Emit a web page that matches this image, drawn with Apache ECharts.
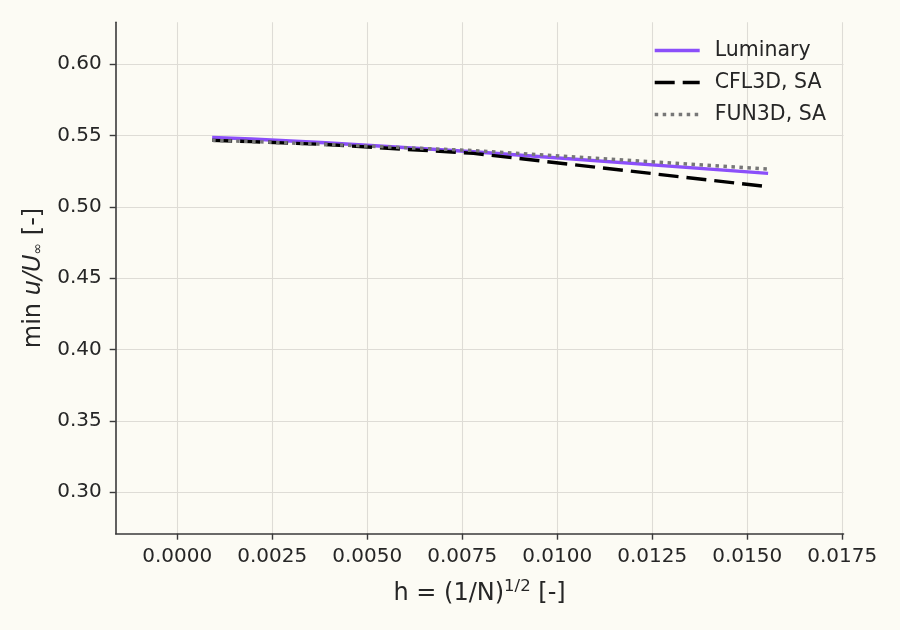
<!DOCTYPE html>
<html>
<head>
<meta charset="utf-8">
<script src="https://cdn.jsdelivr.net/npm/echarts@6/dist/echarts.min.js"></script>
<style>
html,body{margin:0;padding:0;background:#FCFBF4;}
#c{width:900px;height:630px;}
</style>
</head>
<body>
<div id="c"></div>
<script>
const hValues = [0.00092, 0.00195, 0.0039, 0.0078, 0.01555];
const luminary = [0.5487, 0.5476, 0.5449, 0.5386, 0.5235];
const cfl3d = [0.5466, 0.5457, 0.5437, 0.5375, 0.5141];
const fun3d = [0.5466, 0.5458, 0.5438, 0.5395, 0.5265];
const xTicks = [0, 0.0025, 0.005, 0.0075, 0.01, 0.0125, 0.015, 0.0175];
const yTicks = [0.30, 0.35, 0.40, 0.45, 0.50, 0.55, 0.60];
const seriesNames = ['Luminary', 'CFL3D, SA', 'FUN3D, SA'];

const pairs = arr => hValues.map((h, i) => [h, arr[i]]);
const font = 'DejaVu Sans';
const txt = '#262626';
const axisCol = '#3a3a3a';
const gridCol = '#DEDCD6';

const chart = echarts.init(document.getElementById('c'));
chart.setOption({
  backgroundColor: '#FCFBF4',
  animation: false,
  textStyle: {fontFamily: font},
  grid: {left: 115.7, right: 56.5, top: 22.3, bottom: 96.3, containLabel: false},
  legend: {
    orient: 'vertical', left: 653, top: 40, padding: 0,
    itemWidth: 45, itemHeight: 14, itemGap: 11,
    itemStyle: {opacity: 0},
    lineStyle: {width: 3.4},
    textStyle: {fontFamily: font, fontSize: 20.5, color: txt, padding: [0, 0, 0, 10]},
    data: seriesNames
  },
  xAxis: {
    type: 'value', min: -0.001618, max: 0.017534,
    axisLine: {show: true, onZero: false, lineStyle: {color: axisCol, width: 1.6}},
    axisTick: {show: true, length: 6, lineStyle: {color: axisCol, width: 1.4}, customValues: xTicks},
    axisLabel: {customValues: xTicks, margin: 13, fontSize: 20, color: txt, fontFamily: font,
      formatter: v => v.toFixed(4)},
    splitLine: {show: true, lineStyle: {color: gridCol, width: 1.1}},
    name: 'h = (1/N){sup|1/2} [-]',
    nameLocation: 'middle', nameGap: 45,
    nameTextStyle: {fontSize: 24, color: txt, fontFamily: font,
      rich: {sup: {fontSize: 16.5, color: txt, fontFamily: font, padding: [0, 0, 13, 0]}}}
  },
  yAxis: {
    type: 'value', min: 0.2708, max: 0.6294,
    axisLine: {show: true, onZero: false, lineStyle: {color: axisCol, width: 1.6}},
    axisTick: {show: true, length: 6, lineStyle: {color: axisCol, width: 1.4}, customValues: yTicks},
    axisLabel: {customValues: yTicks, margin: 14, fontSize: 20, color: txt, fontFamily: font,
      formatter: v => v.toFixed(2)},
    splitLine: {show: true, lineStyle: {color: gridCol, width: 1.1}},
    name: 'min {i|u/U}{s|∞} [-]',
    nameLocation: 'middle', nameGap: 70,
    nameTextStyle: {fontSize: 24, color: txt, fontFamily: font,
      rich: {i: {fontSize: 24, fontStyle: 'italic', color: txt, fontFamily: font},
             s: {fontSize: 14, color: txt, fontFamily: font, padding: [9, 0, 0, 0]}}}
  },
  series: [
    {name: seriesNames[0], type: 'line', data: pairs(luminary), symbol: 'none',
      lineStyle: {color: '#8B4FFA', width: 3.4}, itemStyle: {color: '#8B4FFA'}, z: 3},
    {name: seriesNames[1], type: 'line', data: pairs(cfl3d), symbol: 'none',
      lineStyle: {color: '#000000', width: 3.4, type: [20, 8], cap: 'butt'}, itemStyle: {color: '#000000'}, z: 4},
    {name: seriesNames[2], type: 'line', data: pairs(fun3d), symbol: 'none',
      lineStyle: {color: '#777777', width: 3.4, type: [3.5, 4.5], cap: 'butt'}, itemStyle: {color: '#777777'}, z: 5}
  ]
});
</script>
</body>
</html>
